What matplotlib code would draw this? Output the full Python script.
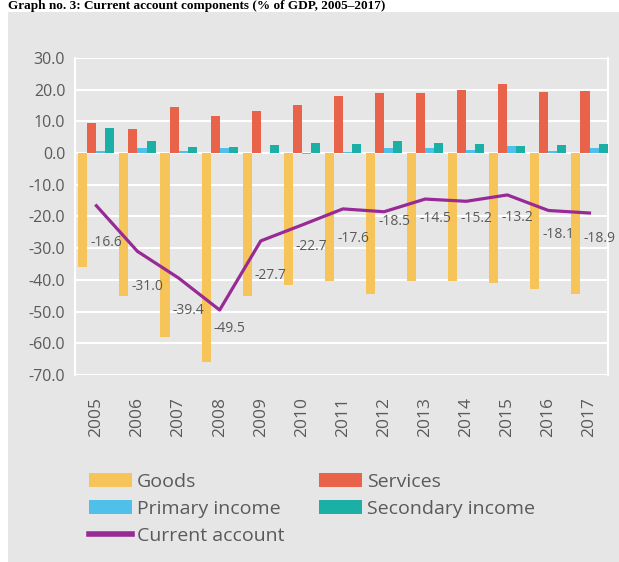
import matplotlib
matplotlib.use("Agg")
import matplotlib.pyplot as plt
from matplotlib.patches import Rectangle
from matplotlib.ticker import FuncFormatter, MultipleLocator
import numpy as np

years = ["2005", "2006", "2007", "2008", "2009", "2010", "2011",
         "2012", "2013", "2014", "2015", "2016", "2017"]
goods = [-36.0, -45.0, -58.0, -66.0, -45.0, -41.5, -40.5,
         -44.5, -40.5, -40.5, -41.0, -43.0, -44.5]
services = [9.5, 7.6, 14.4, 11.8, 13.3, 15.1, 18.0,
            19.0, 19.0, 19.9, 21.8, 19.2, 19.5]
primary = [0.6, 1.6, 0.8, 1.5, 0.0, -0.3, 0.5,
           1.5, 1.5, 1.0, 2.2, 0.8, 1.5]
secondary = [7.9, 3.8, 1.9, 1.9, 2.5, 3.2, 3.0,
             3.8, 3.2, 3.0, 2.2, 2.5, 2.8]
current = [-16.6, -31.0, -39.4, -49.5, -27.7, -22.7, -17.6,
           -18.5, -14.5, -15.2, -13.2, -18.1, -18.9]

title = "Graph no. 3: Current account components (% of GDP, 2005\u20132017)"

C_GOODS = "#F7C45A"
C_SERV = "#E8634A"
C_PRIM = "#4EC0EA"
C_SEC = "#1BAFA5"
C_LINE = "#982A96"
BG = "#E6E6E6"
TXT = "#5a5a5a"

W, H = 619, 562
fig = plt.figure(figsize=(W / 100, H / 100), dpi=100, facecolor="white")
fig.patches.append(Rectangle((8 / W, 0), 1 - 8 / W, 1 - 12 / H,
                             transform=fig.transFigure, facecolor=BG,
                             edgecolor="none", zorder=-10))

fig.text(8 / W, 1 - 9.5 / H, title,
         family="Liberation Serif", fontweight="bold", fontsize=9.5,
         color="black", ha="left", va="baseline")

ax = fig.add_axes([75 / W, 1 - 375 / H, (608 - 75) / W, (375 - 58) / H])
ax.set_facecolor(BG)

x = np.arange(len(years))
w = 0.22
ax.bar(x - 1.5 * w, goods, w, color=C_GOODS, label="Goods", zorder=3)
ax.bar(x - 0.5 * w, services, w, color=C_SERV, label="Services", zorder=3)
ax.bar(x + 0.5 * w, primary, w, color=C_PRIM, label="Primary income", zorder=3)
ax.bar(x + 1.5 * w, secondary, w, color=C_SEC, label="Secondary income", zorder=3)
ax.plot(x, current, color=C_LINE, lw=2.3, label="Current account", zorder=4)

label_dy = [37, 35, 33, 18, 35, 21, 30, 10, 19, 17, 23, 24, 25]
for xi, v, dy in zip(x, current, label_dy):
    ax.annotate(f"{v:.1f}", (xi, v), xytext=(10, -dy), textcoords="offset pixels",
                ha="center", va="center", fontsize=10, color=TXT,
                family="Open Sans", zorder=5)

ax.set_ylim(-70, 30)
ax.set_xlim(-0.52, 12.45)
ax.yaxis.set_major_locator(MultipleLocator(10))
ax.yaxis.set_major_formatter(FuncFormatter(lambda v, p: f"{v:.1f}"))
ax.grid(axis="y", color="white", lw=1.5, zorder=1)
ax.set_axisbelow(True)
for s in ["top", "bottom"]:
    ax.spines[s].set_visible(False)
for s in ["left", "right"]:
    ax.spines[s].set_color("white")
    ax.spines[s].set_linewidth(1.5)
ax.tick_params(length=0, colors=TXT)
ax.set_xticks(x)
ax.set_xticklabels(years, rotation=90, fontsize=12.5, family="Open Sans", color=TXT)
for t in ax.get_yticklabels():
    t.set_family("Open Sans")
    t.set_fontsize(11.5)
    t.set_color(TXT)
ax.tick_params(axis="y", pad=7)
ax.tick_params(axis="x", pad=16)

handles, labels = ax.get_legend_handles_labels()
hd = dict(zip(labels, handles))
order = ["Goods", "Primary income", "Current account", "Services", "Secondary income"]
leg = fig.legend([hd[k] for k in order], order, ncol=2, loc="upper left",
                 bbox_to_anchor=(89 / W, 1 - 473 / H), frameon=False,
                 prop={"family": "Open Sans", "size": 14},
                 handlelength=2.2, handleheight=0.75, handletextpad=0.25,
                 columnspacing=1.8, labelspacing=0.47, borderpad=0,
                 borderaxespad=0)
for t in leg.get_texts():
    t.set_color(TXT)
for l in leg.get_lines():
    l.set_linewidth(4)

fig.savefig("out.png", dpi=100, facecolor="white")
